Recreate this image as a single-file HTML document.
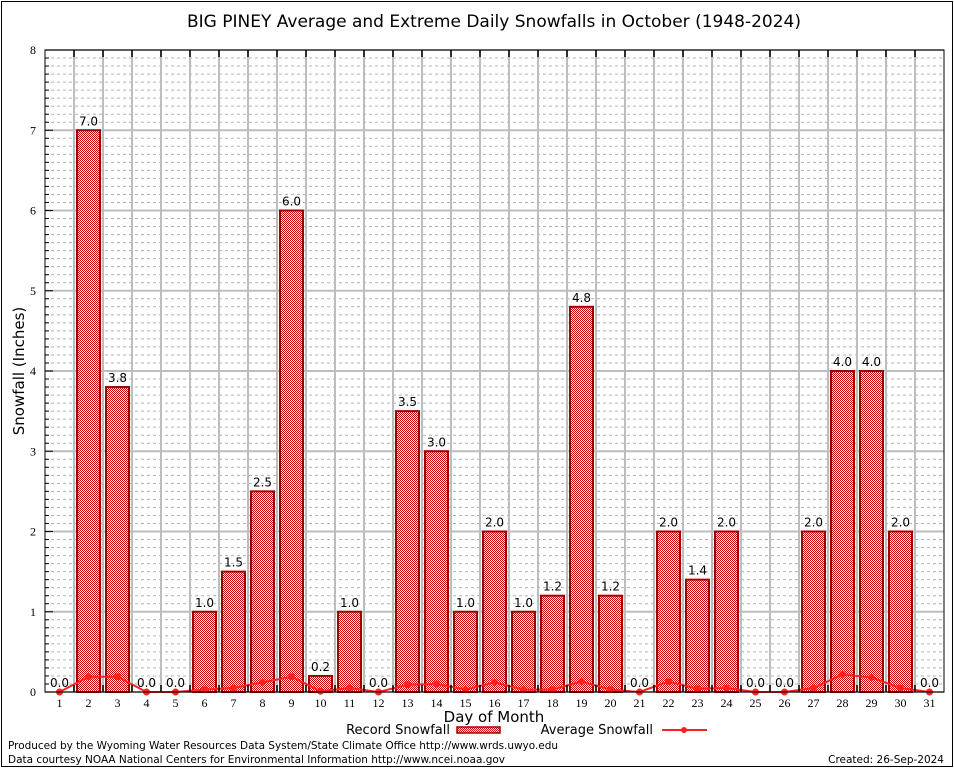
<!DOCTYPE html>
<html><head><meta charset="utf-8"><style>
body{margin:0;background:#fff}
svg{display:block;font-family:"DejaVu Sans","Liberation Sans",sans-serif}
</style></head><body>
<svg width="954" height="768" viewBox="0 0 954 768">
<defs>
<pattern id="chk" width="2" height="2" patternUnits="userSpaceOnUse">
<rect width="2" height="2" fill="#fff"/><rect width="1" height="1" fill="#cc0000"/><rect x="1" y="1" width="1" height="1" fill="#cc0000"/>
</pattern>
</defs>
<rect x="1.5" y="1.5" width="951" height="765" fill="#fff" stroke="#000" stroke-width="1"/>
<text x="494" y="27" font-size="17" text-anchor="middle">BIG PINEY Average and Extreme Daily Snowfalls in October (1948-2024)</text>
<g id="grid"></g>
<g id="bars"></g>
<g id="avg"></g>
<rect x="45" y="50" width="899" height="642" fill="none" stroke="#000" stroke-width="1"/>
<g id="axes"></g>
<text transform="translate(24,371) rotate(-90)" font-size="15" text-anchor="middle">Snowfall (Inches)</text>
<text x="494" y="722" font-size="15" text-anchor="middle">Day of Month</text>
<g>
<text x="450" y="734" font-size="13" text-anchor="end">Record Snowfall</text>
<rect x="457" y="727" width="43" height="6" fill="url(#chk)" stroke="#a00000" stroke-width="1.5"/>
<text x="653" y="734" font-size="13" text-anchor="end">Average Snowfall</text>
<line x1="662" y1="730" x2="707" y2="730" stroke="#ff2020" stroke-width="2"/>
<circle cx="684" cy="730" r="3" fill="#ff2020"/>
</g>
<text x="8" y="749" font-size="10.5" textLength="550">Produced by the Wyoming Water Resources Data System/State Climate Office http://www.wrds.uwyo.edu</text>
<text x="8" y="763" font-size="10.5" textLength="497">Data courtesy NOAA National Centers for Environmental Information http://www.ncei.noaa.gov</text>
<text x="944" y="763" font-size="10.5" text-anchor="end">Created: 26-Sep-2024</text>
</svg>
<script>
const days=[1,2,3,4,5,6,7,8,9,10,11,12,13,14,15,16,17,18,19,20,21,22,23,24,25,26,27,28,29,30,31];
const recordValues=[0,7.0,3.8,0,0,1.0,1.5,2.5,6.0,0.2,1.0,0,3.5,3.0,1.0,2.0,1.0,1.2,4.8,1.2,0,2.0,1.4,2.0,0,0,2.0,4.0,4.0,2.0,0];
const averageValues=[0,0.19,0.19,0,0,0.03,0.05,0.12,0.19,0.01,0.05,0,0.09,0.1,0.03,0.12,0.03,0.03,0.13,0.03,0,0.13,0.04,0.05,0,0,0.05,0.22,0.18,0.05,0];
const yTicks=[0,1,2,3,4,5,6,7,8];
const NS='http://www.w3.org/2000/svg';
const L=45,R=944,T=50,B=692,YMAX=8;
const xs=d=>L+(R-L)/31*(d-0.5);
const ys=v=>B-(B-T)*v/YMAX;
function mk(tag,attrs,parent){const e=document.createElementNS(NS,tag);for(const k in attrs)e.setAttribute(k,attrs[k]);parent.appendChild(e);return e;}
const grid=document.getElementById('grid'),bars=document.getElementById('bars'),avg=document.getElementById('avg'),axes=document.getElementById('axes');
for(let i=1;i<YMAX*10;i++){if(i%10===0)continue;const y=ys(i/10);
const l=mk('line',{x1:L,x2:R,y1:y,y2:y,stroke:'#b0b0b0','stroke-dasharray':'3,3','stroke-width':1},grid);


const t=mk('line',{x1:L,x2:L+4,y1:y,y2:y,stroke:'#000'},axes);

}
yTicks.forEach(v=>{const y=ys(v);
const l=mk('line',{x1:L,x2:R,y1:y,y2:y,stroke:'#bdbdbd','stroke-width':2},grid);


const t=mk('text',{x:L-9,y:y+4,'font-size':12,'text-anchor':'end','font-family':'Liberation Serif, serif'},axes);t.textContent=v;


const tk=mk('line',{x1:L,x2:L+8,y1:y,y2:y,stroke:'#000'},axes);

});
for(let k=1;k<31;k++){const x=L+(R-L)/31*k;
const l=mk('line',{x1:x,x2:x,y1:T,y2:B,stroke:'#bdbdbd','stroke-width':2},grid);


const t1=mk('line',{x1:x,x2:x,y1:T,y2:T+7,stroke:'#000','stroke-width':1.5},axes);


const t2=mk('line',{x1:x,x2:x,y1:B,y2:B-7,stroke:'#000','stroke-width':1.5},axes);

}
days.forEach((d,i)=>{const x=xs(d),v=recordValues[i];
if(v>0){const r=mk('rect',{x:x-11.5,y:ys(v),width:23,height:B-ys(v),fill:'url(#chk)',stroke:'#a00000','stroke-width':2},bars);

}
const lb=mk('text',{x:x,y:ys(v)-5,'font-size':12,'text-anchor':'middle'},bars);lb.textContent=v.toFixed(1);


const xt=mk('text',{x:x,y:B+15,'font-size':12,'text-anchor':'middle','font-family':'Liberation Serif, serif'},axes);xt.textContent=d;

});
const pts=days.map((d,i)=>xs(d)+','+ys(averageValues[i])).join(' ');
const pl=mk('polyline',{points:pts,fill:'none',stroke:'#ff2020','stroke-width':2},avg);


days.forEach((d,i)=>{const c=mk('circle',{cx:xs(d),cy:ys(averageValues[i]),r:3.5,fill:'#ff2020'},avg);

});
</script>
</body></html>
